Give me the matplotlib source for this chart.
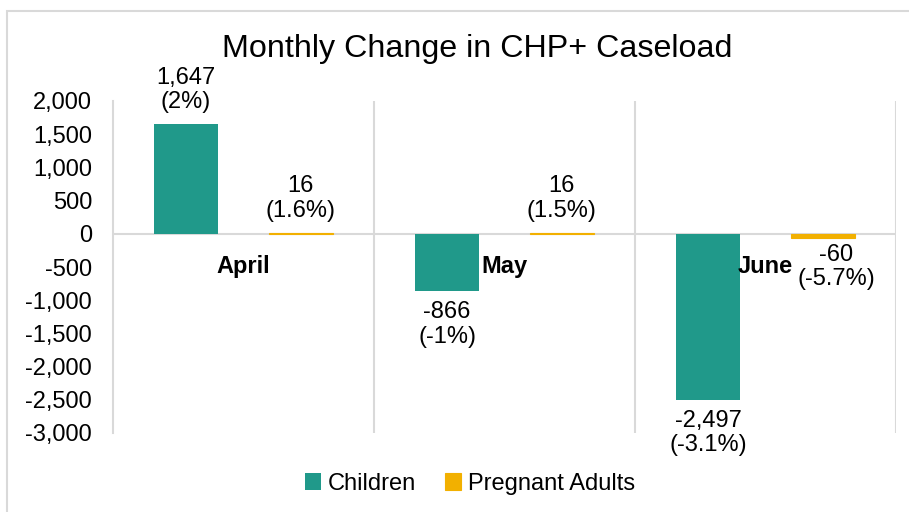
import matplotlib
matplotlib.use("Agg")
import matplotlib.pyplot as plt
from matplotlib.patches import Rectangle
import numpy as np

plt.rcParams['font.family'] = ['Liberation Sans', 'DejaVu Sans']

categories = ["April", "May", "June"]
children = [1647, -866, -2497]
pregnant = [16, 16, -60]
children_pct = ["2%", "-1%", "-3.1%"]
pregnant_pct = ["1.6%", "1.5%", "-5.7%"]
series_names = ["Children", "Pregnant Adults"]
yticks = [2000, 1500, 1000, 500, 0, -500, -1000, -1500, -2000, -2500, -3000]

teal = "#20998A"
gold = "#F2B000"
grid = "#D9D9D9"

W, H = 909, 512
fig = plt.figure(figsize=(W/100, H/100), dpi=100)
ax = fig.add_axes([113/W, 1-433/H, (896-113)/W, (433-101)/H])

x = np.arange(len(categories))
bw = 0.245
off = 0.22
b1 = ax.bar(x - off, children, bw, color=teal, label=series_names[0], zorder=3)
b2 = ax.bar(x + off, pregnant, bw, color=gold, edgecolor=gold, linewidth=0.8,
            label=series_names[1], zorder=3)

ax.set_xlim(-0.5, 2.5)
ax.set_ylim(-3000, 2000)
ax.set_yticks(yticks)
ax.set_yticklabels([f"{v:,}" for v in yticks])
ax.tick_params(axis='y', length=0, pad=15, labelsize=17)
ax.set_xticks([])
for s in ["top", "bottom", "right"]:
    ax.spines[s].set_visible(False)
ax.spines["left"].set_color(grid)
ax.spines["left"].set_linewidth(1.5)
for xv in [0.5, 1.5, 2.5]:
    ax.axvline(xv, color=grid, lw=1.5, zorder=1)
ax.axhline(0, color=grid, lw=1.5, zorder=2)

fs = 17
def label(bars, vals, pcts, neg_dx=0, neg_dy=-10):
    for b, v, p in zip(bars, vals, pcts):
        cx = b.get_x() + b.get_width()/2
        txt = f"{v:,}\n({p})"
        if v >= 0:
            ax.annotate(txt, (cx, v), xytext=(0, 11), textcoords='offset pixels',
                        ha='center', va='bottom', fontsize=fs, linespacing=1.15, zorder=5)
        else:
            ax.annotate(txt, (cx, v), xytext=(neg_dx, neg_dy), textcoords='offset pixels',
                        ha='center', va='top', fontsize=fs, linespacing=1.15, zorder=5)

label(b1, children, children_pct)
label(b2, pregnant, pregnant_pct, neg_dx=13, neg_dy=-6)

for i, c in enumerate(categories):
    ax.annotate(c, (i, 0), xytext=(0, -21), textcoords='offset pixels',
                ha='center', va='top', fontsize=fs, fontweight='bold', zorder=6)

fig.text(477/W, 1-49/H, "Monthly Change in CHP+ Caseload", ha='center', va='center', fontsize=23.2)

fig.legend(handles=[b1, b2], labels=series_names, loc='center', bbox_to_anchor=(470/W, 1-484/H),
           ncol=2, frameon=False, fontsize=17, handlelength=0.7, handleheight=0.7,
           handletextpad=0.3, columnspacing=1.2)

fig.patches.append(Rectangle((7/W, -0.01), 1.0, 1-11/H + 0.01, transform=fig.transFigure,
                             fill=False, edgecolor=grid, lw=1.5))

fig.savefig("out.png", dpi=100)
